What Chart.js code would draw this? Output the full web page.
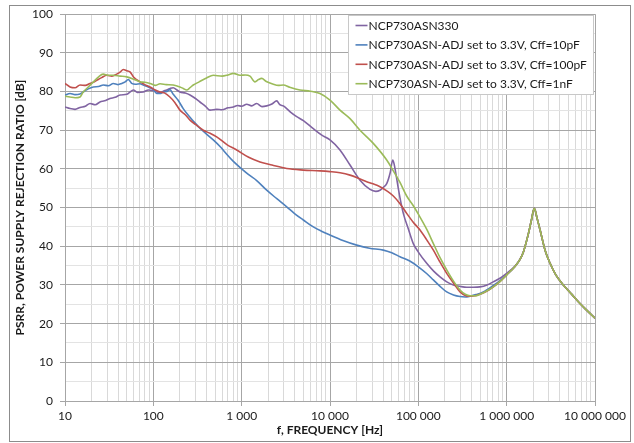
<!DOCTYPE html>
<html>
<head>
<meta charset="utf-8">
<script src="https://cdn.jsdelivr.net/npm/chart.js@4/dist/chart.umd.min.js"></script>
<style>
html,body{margin:0;padding:0;background:#fff;}
#wrap{width:634px;height:443px;position:relative;}
</style>
</head>
<body>
<div id="wrap"><canvas id="c" width="634" height="443"></canvas></div>
<script>
// ---------- DATA ----------
const seriesNames = [
  'NCP730ASN330',
  'NCP730ASN-ADJ set to 3.3V, Cff=10pF',
  'NCP730ASN-ADJ set to 3.3V, Cff=100pF',
  'NCP730ASN-ADJ set to 3.3V, Cff=1nF'
];
const seriesColors = ['#8064A2', '#4F81BD', '#C0504D', '#9BBB59'];

const purpleFreq = [10, 11.4, 13, 14.8, 17, 19.2, 22, 24.9, 28, 32.3, 37, 42, 50, 54, 59.3, 66, 76.9, 88, 100, 110, 119, 130, 142, 155, 168, 185, 200, 230, 260, 300, 337, 390, 438, 521, 600, 700, 804, 900, 1000, 1140, 1300, 1480, 1700, 1921, 2200, 2494, 2700, 2960, 3236, 3600, 4197, 5000, 6475, 8000, 10000, 12970, 16850, 21870, 28380, 33000, 36800, 40000, 43860, 48000, 51290, 53500, 56900, 59300, 62000, 67600, 77800, 87700, 100000, 124400, 150000, 176000, 210000, 249000, 300000, 353000, 420000, 499000, 600000, 706000, 850000, 1000000];
const purplePsrr = [76, 75.6, 75.4, 75.9, 76.2, 76.9, 76.6, 77.3, 77.6, 78.2, 78.5, 79.1, 79.3, 79.8, 80.4, 79.8, 79.9, 80.4, 80.2, 79.9, 79.7, 80.1, 80.4, 80.8, 81, 80.4, 79.9, 79.6, 79.1, 78.2, 77.3, 76.2, 75.2, 75.4, 75.3, 75.8, 76, 76.4, 76.2, 76.7, 76.3, 76.9, 76.1, 76.3, 76.8, 77.6, 76.6, 76.3, 75.6, 74.6, 73.5, 72.5, 70.4, 68.8, 67.5, 64.9, 61, 57.1, 54.7, 54.2, 54.5, 55.2, 56.2, 59, 62.3, 61, 57.5, 55, 52.5, 48.5, 44.2, 40.7, 38.5, 35.6, 33.5, 32.1, 30.8, 30, 29.6, 29.4, 29.4, 29.5, 30, 30.8, 31.8, 33];

const blueFreq = [10, 11.4, 13, 14.8, 16.1, 18, 20.9, 24, 27.1, 31, 35.2, 40, 43.8, 48, 52, 54, 56.9, 63, 70.6, 76.9, 84, 91.7, 100, 109, 119, 130, 142, 154, 168, 190, 218, 250, 283, 337, 400, 477, 580, 677, 800, 1000, 1200, 1480, 1921, 2500, 3236, 4000, 4990, 6475, 8000, 10000, 14000, 20050, 28000, 40140, 50000, 62000, 80000, 100000, 125000, 148000, 175000, 209500, 250000, 296500, 340000, 385000, 450000, 544000, 700000, 850000, 1000000];
const bluePsrr = [79.1, 79.5, 79.2, 79.4, 79.9, 80.6, 81.2, 81.3, 81.7, 81.5, 82.1, 81.8, 82.1, 82.5, 83.1, 82.8, 82.1, 81.9, 82, 81.7, 81.4, 81, 80.5, 79.5, 79.5, 79.9, 80, 80.5, 79.3, 77.8, 75.6, 73.8, 72.4, 70.5, 69, 67.5, 65.6, 63.8, 62, 60, 58.5, 57, 54.5, 52.3, 50.2, 48.4, 46.8, 45, 43.9, 42.9, 41.5, 40.3, 39.5, 39, 38.3, 37.3, 36.2, 34.7, 32.9, 31.3, 29.7, 28.2, 27.4, 27, 26.9, 27.1, 27.5, 28.2, 29.8, 31.2, 32.6];

const redFreq = [10, 11.4, 13, 14.8, 17, 19.2, 21, 22.9, 26, 29.7, 34, 38.5, 42, 45.7, 50, 54.4, 60, 70.6, 80, 91.7, 105, 119, 135, 154, 175, 200, 230, 260, 300, 368, 440, 521, 680, 879, 1200, 1613, 2200, 3236, 5000, 7709, 10000, 13000, 16850, 21000, 26030, 30000, 36800, 44000, 52100, 62000, 73800, 87000, 104500, 125000, 148000, 175000, 209500, 250000, 296500, 340000, 385000, 440000, 499000, 600000, 706000, 850000, 1000000];
const redPsrr = [82.1, 81.2, 81, 81.7, 81.6, 82.1, 82.4, 82.9, 83.6, 84.2, 84, 84.5, 85, 85.7, 85.4, 85.1, 83.7, 82.5, 81.8, 81.2, 80.4, 79.9, 79.6, 78.6, 77.2, 75.2, 74, 72.6, 71.5, 70, 69.2, 68.3, 66.3, 64.9, 63, 61.8, 61, 60.1, 59.7, 59.5, 59.3, 59, 58.4, 57.6, 56.7, 56.2, 55.4, 54.3, 53, 51, 48.5, 46.3, 44.2, 41.6, 39, 36, 33, 30.5, 28.2, 27.3, 27.1, 27.2, 27.6, 28.4, 29.5, 31, 32.6];

const greenFreq = [10, 11.4, 13, 14.8, 16, 18, 21, 24, 27, 31, 35, 42, 50, 60, 71, 80, 92, 105, 119, 140, 168, 200, 218, 239, 260, 283, 330, 400, 477, 600, 700, 804, 958, 1100, 1242, 1415, 1550, 1686, 1900, 2282, 2600, 2960, 3500, 4571, 6000, 7709, 10000, 12970, 16850, 21870, 30900, 43860, 52100, 62000, 73800, 87000, 100000, 125000, 148000, 175000, 209500, 250000, 296500, 340000, 385000, 440000, 499000, 600000, 706000, 850000, 1000000];
const greenPsrr = [78.8, 78.6, 78.4, 78.6, 79.8, 81, 82.5, 83.8, 84.5, 84.2, 84.2, 84, 83.8, 83.2, 82.5, 82.4, 82.1, 81.6, 82, 81.8, 81.7, 81.2, 80.8, 80.4, 81, 81.7, 82.5, 83.5, 84.2, 84, 84.3, 84.7, 84.2, 84.3, 84, 82.5, 83.1, 83.4, 82.6, 81.9, 81.6, 81.7, 81.1, 80.4, 80.1, 79.5, 77.8, 75.2, 73, 70, 66.6, 62.3, 59.5, 56.5, 53, 50.6, 48.3, 44.3, 40.7, 37.2, 33.9, 31, 28.7, 27.6, 27.2, 27.2, 27.6, 28.5, 29.5, 31, 32.6];

// all four curves coincide above 1 MHz
const tailFreq = [1240000, 1416000, 1550000, 1760000, 1900000, 2056000, 2200000, 2390000, 2720000, 3100000, 3600000, 4380000, 5500000, 6760000, 8200000, 10000000];
const tailPsrr = [34.8, 36.6, 38.6, 43.2, 46.6, 49.8, 47.4, 44.2, 39, 35.6, 32.6, 30, 27.5, 25.2, 23.3, 21.4];

const xMajorTicks = [10, 100, 1000, 10000, 100000, 1000000, 10000000];
const xTickLabels = ['10', '100', '1 000', '10 000', '100 000', '1 000 000', '10 000 000'];
const yTickValues = [0, 10, 20, 30, 40, 50, 60, 70, 80, 90, 100];

const xTitle = 'f, FREQUENCY [Hz]';
const yTitle = 'PSRR, POWER SUPPLY REJECTION RATIO [dB]';

// ---------- BUILD ----------
function toPoints(fr, ps) {
  const pts = fr.map((f, i) => ({x: f, y: ps[i]}));
  return pts.concat(tailFreq.map((f, i) => ({x: f, y: tailPsrr[i]})));
}
const seriesData = [
  toPoints(purpleFreq, purplePsrr),
  toPoints(blueFreq, bluePsrr),
  toPoints(redFreq, redPsrr),
  toPoints(greenFreq, greenPsrr)
];

// tick positions: 1..9 x each decade
const xAllTicks = [];
xMajorTicks.forEach((d, i) => {
  if (i < xMajorTicks.length - 1) { for (let m = 1; m <= 9; m++) xAllTicks.push(d * m); }
  else xAllTicks.push(d);
});
const yAllTicks = [];
for (let v = 0; v <= 100; v += 5) yAllTicks.push(v);

const FONT = 'Lato, "Open Sans", sans-serif';
const MAJOR = '#a6a6a6', MINOR = '#d9d9d9', MINOR_H = '#e3e3e3';

const frame = {
  id: 'frame',
  beforeDraw(chart) {
    const ctx = chart.ctx;
    ctx.save();
    ctx.fillStyle = '#fff';
    ctx.fillRect(0, 0, chart.width, chart.height);
    ctx.strokeStyle = '#8c8c8c';
    ctx.lineWidth = 1;
    ctx.strokeRect(9.5, 5.5, 621, 436);
    ctx.restore();
  }
};

const boxLegend = {
  id: 'boxLegend',
  afterDatasetsDraw(chart) {
    const ctx = chart.ctx;
    const ca = chart.chartArea;
    ctx.save();
    ctx.font = '12px ' + FONT;
    let maxW = 0;
    chart.data.datasets.forEach(ds => { maxW = Math.max(maxW, ctx.measureText(ds.label).width); });
    const padL = 7, lineLen = 12, padR = 7, rowH = 19.4;
    const w = Math.round(padL + lineLen + 1 + maxW + padR);
    const h = Math.round(rowH * 4 + 1);
    const x0 = Math.round(ca.right - 2 - w) + 0.5;
    const y0 = Math.round(ca.top + 1) + 0.5;
    ctx.fillStyle = '#fff';
    ctx.fillRect(x0, y0, w, h);
    ctx.strokeStyle = '#c8c8c8';
    ctx.lineWidth = 1;
    ctx.strokeRect(x0, y0, w, h);
    ctx.textBaseline = 'middle';
    chart.data.datasets.forEach((ds, i) => {
      const cy = y0 + 10 + i * rowH;
      ctx.strokeStyle = ds.borderColor;
      ctx.lineWidth = 1.6;
      ctx.beginPath();
      ctx.moveTo(x0 + padL, cy);
      ctx.lineTo(x0 + padL + lineLen, cy);
      ctx.stroke();
      ctx.fillStyle = '#1a1a1a';
      ctx.fillText(ds.label, x0 + padL + lineLen + 1, cy + 0.5);
    });
    ctx.restore();
  }
};

const isDecade = v => xMajorTicks.indexOf(v) >= 0;

new Chart(document.getElementById('c'), {
  type: 'line',
  data: {
    datasets: seriesData.map((d, i) => ({
      label: seriesNames[i],
      data: d,
      borderColor: seriesColors[i],
      backgroundColor: seriesColors[i],
      borderWidth: 1.6,
      pointRadius: 0,
      fill: false,
      cubicInterpolationMode: 'monotone',
      order: 4 - i
    }))
  },
  options: {
    responsive: false,
    animation: false,
    devicePixelRatio: 1,
    layout: {padding: {left: 10, right: 39, top: 14, bottom: 4}},
    plugins: {legend: {display: false}, tooltip: {enabled: false}},
    scales: {
      x: {
        type: 'logarithmic',
        min: 10, max: 10000000,
        afterBuildTicks(scale) { scale.ticks = xAllTicks.map(v => ({value: v})); },
        afterFit(scale) { scale.height = 38; },
        ticks: {
          autoSkip: false, maxRotation: 0, minRotation: 0, padding: 3,
          color: '#1a1a1a', font: {family: FONT, size: 12},
          callback(v) { const k = xMajorTicks.indexOf(v); return k >= 0 ? xTickLabels[k] : ''; }
        },
        grid: {
          color: c => isDecade(c.tick && c.tick.value) ? MAJOR : MINOR,
          tickColor: c => isDecade(c.tick && c.tick.value) ? MAJOR : 'rgba(0,0,0,0)',
          tickLength: 5, lineWidth: 1
        },
        border: {color: MAJOR},
        title: {display: true, text: xTitle, color: '#1a1a1a', font: {family: FONT, size: 12, weight: 'bold'}, padding: {top: 0, bottom: 2}}
      },
      y: {
        type: 'linear',
        min: 0, max: 100,
        afterBuildTicks(scale) { scale.ticks = yAllTicks.map(v => ({value: v})); },
        afterFit(scale) { scale.width = 55; },
        ticks: {
          autoSkip: false, padding: 7,
          color: '#1a1a1a', font: {family: FONT, size: 12},
          callback(v) { return yTickValues.indexOf(v) >= 0 ? String(v) : ''; }
        },
        grid: {
          color: c => (c.tick && c.tick.value % 10 === 0) ? MAJOR : MINOR_H,
          tickColor: c => (c.tick && c.tick.value % 10 === 0) ? MAJOR : 'rgba(0,0,0,0)',
          tickLength: 5, lineWidth: 1
        },
        border: {color: MAJOR},
        title: {display: true, text: yTitle, color: '#1a1a1a', font: {family: FONT, size: 12, weight: 'bold'}, padding: {top: 3, bottom: 0}}
      }
    }
  },
  plugins: [frame, boxLegend]
});
</script>
</body>
</html>
